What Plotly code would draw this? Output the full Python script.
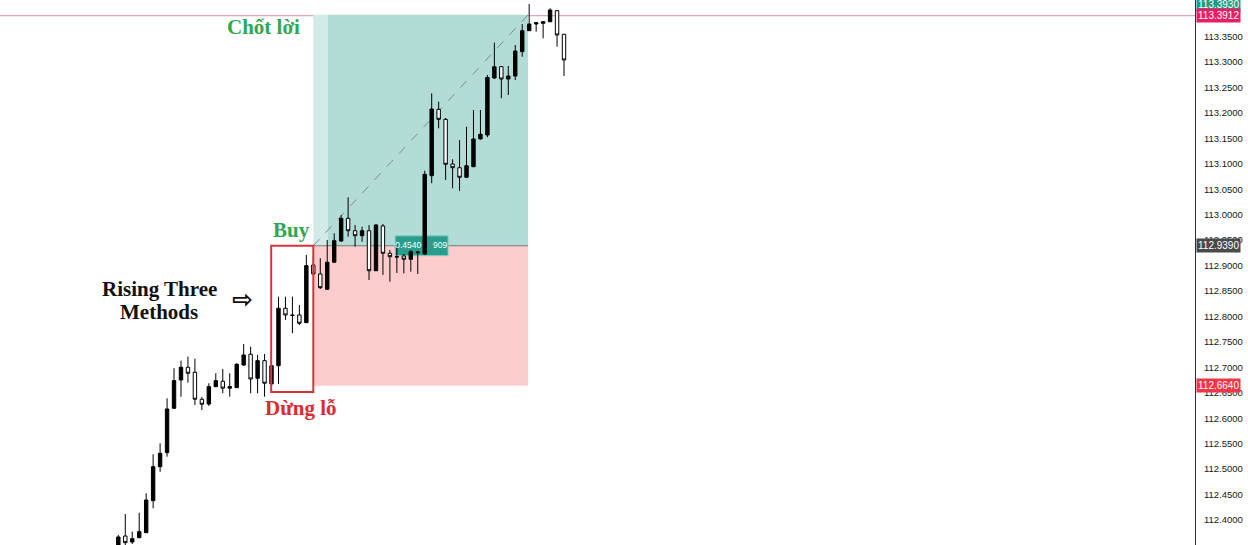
import plotly.graph_objects as go

# ---- data (price values) ----
idx = list(range(65))
opens = [112.3507,112.3684,112.3566,112.3651,112.3749,112.4378,112.5047,112.5321,112.6195,112.6751,
         112.7001,112.6903,112.6372,112.6279,112.6620,112.6726,112.6590,112.6600,112.7046,112.7257,
         112.6785,112.7131,112.6673,112.7032,112.8161,112.8029,112.8029,112.7878,112.9012,112.8835,
         112.8534,112.9066,112.9484,112.9929,112.9685,112.9587,112.9685,112.8899,112.9778,112.9242,
         112.9175,112.9189,112.9124,112.9253,112.9228,113.0767,113.2072,113.1875,113.0997,113.0924,
         113.0736,113.0944,113.1489,113.1567,113.2688,113.2910,113.2668,113.2727,113.3205,113.3618,
         113.3749,113.3763,113.3794,113.4011,113.3547]
closes = [112.3665,112.3553,112.3631,112.3769,112.4392,112.5047,112.5309,112.6181,112.6738,112.7001,
          112.6883,112.6372,112.6274,112.6620,112.6738,112.6590,112.6620,112.7060,112.7243,112.6771,
          112.7131,112.6687,112.7032,112.8161,112.8029,112.8019,112.7866,112.8999,112.8835,112.8566,
          112.9066,112.9490,112.9929,112.9685,112.9587,112.9685,112.8899,112.9798,112.9242,112.9175,
          112.9170,112.9124,112.9273,112.9263,113.0794,113.2078,113.1875,113.0991,113.0924,113.0736,
          113.0964,113.1489,113.1581,113.2697,113.2910,113.2668,113.2727,113.3218,113.3618,113.3749,
          113.3775,113.3794,113.4024,113.3533,113.3042]
highs = [112.3704,112.4117,112.3769,112.4142,112.4524,112.5291,112.5506,112.6391,112.6982,112.7131,
         112.7210,112.7170,112.6417,112.6687,112.6883,112.6968,112.6883,112.7080,112.7459,112.7407,
         112.7243,112.7262,112.7066,112.8389,112.8389,112.8389,112.8226,112.9210,112.9177,112.9146,
         112.9504,112.9635,112.9994,113.0343,112.9798,112.9764,112.9798,112.9818,112.9818,112.9307,
         112.9405,112.9228,112.9307,112.9287,113.0865,113.2387,113.2222,113.1901,113.1090,113.1469,
         113.1730,113.2059,113.2059,113.2747,113.3382,113.2924,113.2924,113.3336,113.3749,113.4142,
         113.3789,113.3808,113.4058,113.4024,113.3553]
lows = [112.3488,112.3507,112.3527,112.3645,112.3743,112.4229,112.4946,112.5243,112.6181,112.6423,
        112.6699,112.6260,112.6161,112.6240,112.6614,112.6489,112.6423,112.6594,112.7027,112.6489,
        112.6489,112.6423,112.6515,112.6673,112.7931,112.7671,112.7833,112.7872,112.8816,112.8540,
        112.8521,112.9051,112.9464,112.9568,112.9371,112.9470,112.8717,112.8893,112.8816,112.8684,
        112.8854,112.8848,112.8880,112.8834,112.9208,113.0618,113.1698,113.0683,113.0519,113.0466,
        113.0722,113.0938,113.1479,113.1522,113.2668,113.2289,113.2353,113.2648,113.3106,113.3612,
        113.3598,113.3468,113.3789,113.3303,113.2727]

entry_price = 112.9390
tp_price = 113.3930
sl_price = 112.6640
last_price = 113.3912
pos_start = 28
pos_dark_start = 30.1
pos_end = 58.85
pattern_start = 22
pattern_end = 28
pattern_low = 112.6515
tick_vals = [round(112.40 + 0.05 * k, 2) for k in range(20)]

fig = go.Figure()

# position label text (drawn under the candles)
fig.add_trace(go.Scatter(x=[43.5], y=[112.9392], mode="text", text=["0.4540     909"],
                         textfont=dict(color="white", size=8.5, family="Liberation Sans"),
                         hoverinfo="skip", showlegend=False))

fig.add_trace(go.Candlestick(
    x=idx, open=opens, high=highs, low=lows, close=closes,
    increasing=dict(fillcolor="#000000", line=dict(color="#000000", width=1)),
    decreasing=dict(fillcolor="#ffffff", line=dict(color="#000000", width=1)),
    showlegend=False, hoverinfo="skip"))

shapes = [
    # profit zone
    dict(type="rect", xref="x", yref="y", x0=pos_start, x1=pos_dark_start, y0=entry_price, y1=tp_price,
         fillcolor="#d3ebe8", line=dict(width=0), layer="below"),
    dict(type="rect", xref="x", yref="y", x0=pos_dark_start, x1=pos_end, y0=entry_price, y1=tp_price,
         fillcolor="#b3dcd7", line=dict(width=0), layer="below"),
    # loss zone
    dict(type="rect", xref="x", yref="y", x0=pos_start, x1=pos_end, y0=sl_price, y1=entry_price,
         fillcolor="#fdcdcd", line=dict(width=0), layer="below"),
    # entry line
    dict(type="line", xref="x", yref="y", x0=pos_start, x1=pos_end, y0=entry_price, y1=entry_price,
         line=dict(color="#6f7a7a", width=1), layer="below"),
    # dashed diagonal
    dict(type="line", xref="x", yref="y", x0=pos_start, x1=pos_end, y0=entry_price, y1=tp_price,
         line=dict(color="#7d8c8a", width=1, dash="dash"), layer="below"),
    # label box
    dict(type="rect", xref="x", yref="y", x0=39.75, x1=47.35, y0=112.9195, y1=112.9585,
         fillcolor="#2a9d8c", line=dict(color="#7fcfc3", width=1), layer="below"),
    # last price line
    dict(type="line", xref="paper", yref="y", x0=0, x1=1, y0=last_price, y1=last_price,
         line=dict(color="#dc8cab", width=1), layer="below"),
    # pattern box
    dict(type="rect", xref="x", yref="y", x0=pattern_start - 0.05, x1=pattern_end, y0=pattern_low, y1=entry_price,
         fillcolor="rgba(0,0,0,0)", line=dict(color="#d9343c", width=2), layer="above"),
]

serif = "Liberation Serif"
annotations = [
    dict(x=20.9, y=113.369, xref="x", yref="y", text="<b>Chốt lời</b>", showarrow=False,
         font=dict(family=serif, size=21, color="#2fa84f")),
    dict(x=24.8, y=112.970, xref="x", yref="y", text="<b>Buy</b>", showarrow=False,
         font=dict(family=serif, size=21, color="#2fa84f")),
    dict(x=5.85, y=112.8545, xref="x", yref="y", text="<b>Rising Three</b>", showarrow=False,
         font=dict(family=serif, size=21, color="#111111")),
    dict(x=5.85, y=112.8093, xref="x", yref="y", text="<b>Methods</b>", showarrow=False,
         font=dict(family=serif, size=21, color="#111111")),
    dict(x=17.9, y=112.8343, xref="x", yref="y", text="<b>⇨</b>", showarrow=False,
         font=dict(family="DejaVu Sans", size=25, color="#111111")),
    dict(x=26.2, y=112.6201, xref="x", yref="y", text="<b>Dừng lỗ</b>", showarrow=False,
         font=dict(family=serif, size=21, color="#dc2a32")),
]

badges = [
    (tp_price, "#1f9c87", 10),
    (last_price, "#e91e63", 0),
    (entry_price, "#4a4a4a", 0),
    (sl_price, "#f23645", 0),
]
for price, color, ys in badges:
    annotations.append(dict(x=1, y=price, xref="paper", yref="y", xanchor="left", yanchor="middle",
                            xshift=1, yshift=ys, text=f"{price:.4f}", showarrow=False,
                            bgcolor=color, borderpad=1,
                            font=dict(family="Liberation Sans", size=10, color="white")))

fig.update_layout(
    width=1248, height=545,
    margin=dict(l=0, r=53, t=0, b=0, autoexpand=False),
    paper_bgcolor="white", plot_bgcolor="white",
    shapes=shapes, annotations=annotations,
    showlegend=False,
    xaxis=dict(range=[-16.99, 154.61], visible=False, rangeslider=dict(visible=False),
               showgrid=False, zeroline=False),
    yaxis=dict(range=[112.3507, 113.4221], side="right", showgrid=False, zeroline=False,
               showline=True, linecolor="#2a2e39", linewidth=1, ticks="", automargin=False,
               tickvals=tick_vals, ticktext=[f"{v:.4f}" for v in tick_vals],
               tickfont=dict(family="Liberation Sans", size=9.5, color="#131722"),
               ticklabelstandoff=6),
)

fig.write_html("out.html", config={"displayModeBar": False},
               post_script="document.body.style.margin='0';document.body.style.overflow='hidden';")
